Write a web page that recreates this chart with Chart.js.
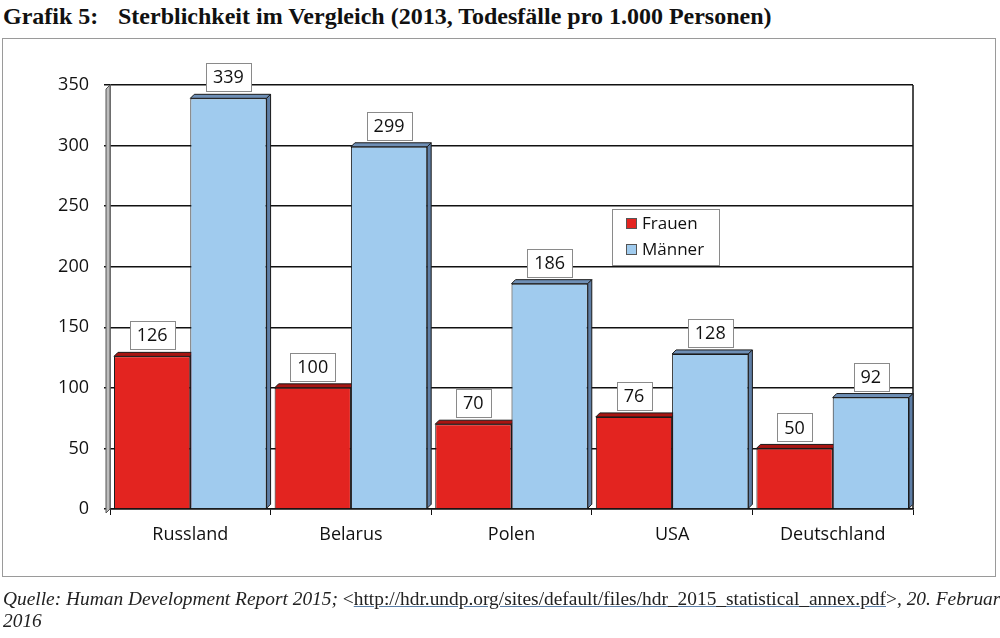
<!DOCTYPE html>
<html><head><meta charset="utf-8">
<script src="https://cdn.jsdelivr.net/npm/chart.js@4"></script>
<style>
html,body{margin:0;padding:0;background:#fff;width:1000px;height:638px;overflow:hidden;}
#title{position:absolute;left:3px;top:3px;font-family:"Liberation Serif",serif;font-weight:bold;font-size:24px;color:#111;white-space:nowrap;}
#title span.g{display:inline-block;width:115px;}
#frame{position:absolute;left:2px;top:38px;width:994px;height:539px;border:1px solid #9a9a9a;box-sizing:border-box;}
#c{position:absolute;left:0;top:0;}
#src{position:absolute;left:3px;top:588px;font-family:"Liberation Serif",serif;font-size:19.4px;line-height:22px;color:#222;font-style:italic;white-space:nowrap;}
#src .u{font-style:normal;}
#src .u a{color:#222;text-decoration:underline;text-decoration-color:#5b7fa8;}
</style></head>
<body>
<div id="title"><span class="g">Grafik 5:</span>Sterblichkeit im Vergleich (2013, Todesfälle pro 1.000 Personen)</div>
<div id="frame"></div>
<canvas id="c" width="1000" height="638"></canvas>
<div id="src">Quelle: Human Development Report 2015; <span class="u">&lt;<a>http://hdr.undp.org/sites/default/files/hdr_2015_statistical_annex.pdf</a>&gt;</span>, 20. Februar<br>2016</div>
<script>
const categories = ["Russland", "Belarus", "Polen", "USA", "Deutschland"];
const frauen = [126, 100, 70, 76, 50];
const maenner = [339, 299, 186, 128, 92];
const seriesNames = ["Frauen", "Männer"];
const yTicks = [0, 50, 100, 150, 200, 250, 300, 350];

const FONT = '"Open Sans", sans-serif';
const colors = [
  {front: '#E32420', top: '#A81512', side: '#8E1210'},
  {front: '#A0CBEE', top: '#6E8FB6', side: '#5E7EA6'}
];
const D = 4;

const threeD = {
  id: 'threeD',
  beforeDatasetsDraw(chart) {
    const a = chart.chartArea, ctx = chart.ctx;
    ctx.save();
    // left wall
    ctx.fillStyle = '#BDBDBD';
    ctx.strokeStyle = '#555';
    ctx.lineWidth = 1;
    ctx.beginPath();
    ctx.moveTo(a.left - D, a.top + D);
    ctx.lineTo(a.left, a.top);
    ctx.lineTo(a.left, a.bottom);
    ctx.lineTo(a.left - D, a.bottom + D);
    ctx.closePath();
    ctx.fill(); ctx.stroke();
    // right border
    ctx.strokeStyle = '#111';
    ctx.lineWidth = 1.5;
    ctx.beginPath();
    ctx.moveTo(a.right, a.top);
    ctx.lineTo(a.right, a.bottom);
    ctx.stroke();
    // 3D faces of bars (drawn before fronts so neighbours cover them)
    ctx.lineWidth = 1;
    ctx.strokeStyle = '#1a1a1a';
    chart.data.datasets.forEach((ds, i) => {
      const c = colors[i];
      chart.getDatasetMeta(i).data.forEach(bar => {
        const l = bar.x - bar.width / 2, r = bar.x + bar.width / 2, y = bar.y, b = bar.base;
        ctx.fillStyle = c.top;
        ctx.beginPath();
        ctx.moveTo(l, y); ctx.lineTo(l + D, y - D); ctx.lineTo(r + D, y - D); ctx.lineTo(r, y); ctx.closePath();
        ctx.fill(); ctx.stroke();
        ctx.fillStyle = c.side;
        ctx.beginPath();
        ctx.moveTo(r, y); ctx.lineTo(r + D, y - D); ctx.lineTo(r + D, b - D); ctx.lineTo(r, b); ctx.closePath();
        ctx.fill(); ctx.stroke();
      });
    });
    ctx.restore();
  },
  afterDatasetsDraw(chart) {
    const ctx = chart.ctx;
    ctx.save();
    ctx.font = '18px ' + FONT;
    ctx.textAlign = 'center';
    ctx.textBaseline = 'middle';
    chart.data.datasets.forEach((ds, i) => {
      chart.getDatasetMeta(i).data.forEach((bar, j) => {
        const txt = String(ds.data[j]);
        const w = ctx.measureText(txt).width + 14;
        const h = 28;
        const cx = bar.x, cy = bar.y - 21;
        ctx.fillStyle = '#fff';
        ctx.fillRect(Math.round(cx - w / 2) + 0.5, Math.round(cy - h / 2) + 0.5, Math.round(w), h);
        ctx.strokeStyle = '#8a8a8a';
        ctx.lineWidth = 1;
        ctx.strokeRect(Math.round(cx - w / 2) + 0.5, Math.round(cy - h / 2) + 0.5, Math.round(w), h);
        ctx.fillStyle = '#111';
        ctx.fillText(txt, cx, cy + 1);
      });
    });
    // legend
    const lx = 612, ly = 209, lw = 107, lh = 56;
    ctx.fillStyle = '#fff';
    ctx.fillRect(lx + 0.5, ly + 0.5, lw, lh);
    ctx.strokeStyle = '#8a8a8a';
    ctx.strokeRect(lx + 0.5, ly + 0.5, lw, lh);
    ctx.font = '17px ' + FONT;
    ctx.textAlign = 'left';
    seriesNames.forEach((n, i) => {
      const yy = ly + 15 + i * 26;
      ctx.fillStyle = colors[i].front;
      ctx.fillRect(lx + 14.5, yy - 5.5, 10, 10);
      ctx.strokeStyle = '#555';
      ctx.strokeRect(lx + 14.5, yy - 5.5, 10, 10);
      ctx.fillStyle = '#111';
      ctx.fillText(n, lx + 30, yy);
    });
    ctx.restore();
  }
};

new Chart(document.getElementById('c'), {
  type: 'bar',
  data: {
    labels: categories,
    datasets: [
      {label: seriesNames[0], data: frauen, backgroundColor: colors[0].front, borderColor: '#1a1a1a', borderWidth: 1},
      {label: seriesNames[1], data: maenner, backgroundColor: colors[1].front, borderColor: '#1a1a1a', borderWidth: 1}
    ]
  },
  options: {
    responsive: false,
    devicePixelRatio: 1,
    animation: false,
    layout: {padding: {left: 0, top: 85, right: 87, bottom: 89}},
    plugins: {legend: {display: false}, tooltip: {enabled: false}, title: {display: false}},
    datasets: {bar: {categoryPercentage: 0.95, barPercentage: 1.0}},
    scales: {
      x: {
        grid: {display: true, drawOnChartArea: false, drawTicks: true, tickLength: 6, color: '#111', offset: true},
        border: {display: true, color: '#111', width: 1.5},
        ticks: {color: '#111', font: {family: FONT, size: 18}, padding: 9},
        afterFit(s) { s.height = 40; }
      },
      y: {
        min: 0, max: 350,
        afterBuildTicks(s) { s.ticks = yTicks.map(v => ({value: v})); },
        grid: {color: '#111', lineWidth: 1.5, tickLength: 6},
        border: {display: true, color: '#111', width: 1.5},
        ticks: {color: '#111', font: {family: FONT, size: 18}, padding: 15},
        afterFit(s) { s.width = 110; }
      }
    }
  },
  plugins: [threeD]
});
</script>
</body></html>
